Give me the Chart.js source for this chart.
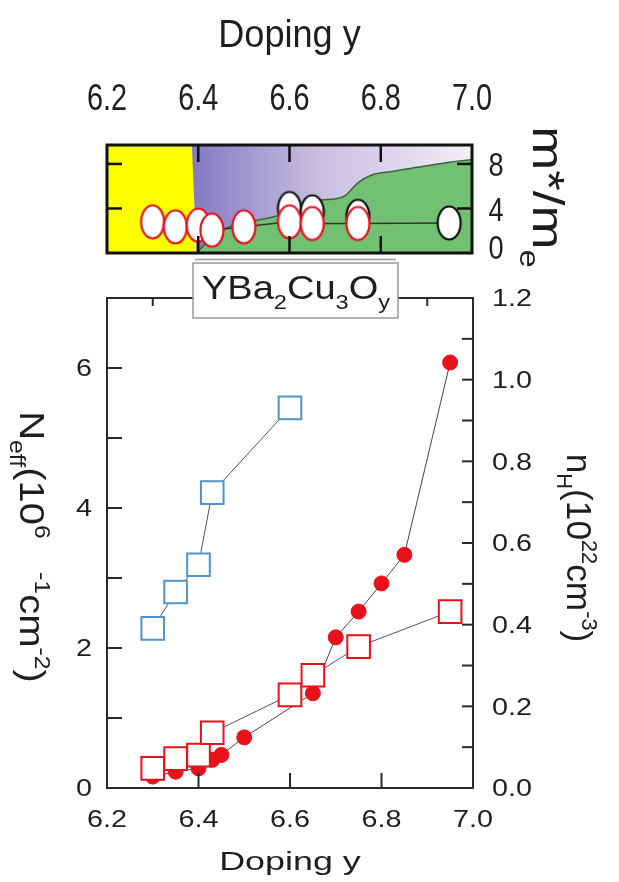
<!DOCTYPE html>
<html lang="en">
<head>
<meta charset="UTF-8" />
<title>YBa2Cu3Oy vs doping</title>
<script src="https://cdn.jsdelivr.net/npm/chart.js@4.4.1/dist/chart.umd.min.js"></script>
<style>
  body { margin: 0; background: #fff; }
  #wrap { position: relative; width: 619px; height: 882px; }
  canvas { position: absolute; left: 0; top: 0; }
</style>
</head>
<body>
<div id="wrap">
  <canvas id="massChart" width="619" height="882"></canvas>
  <canvas id="densityChart" width="619" height="882"></canvas>
</div>
<script>
// ---- data ----
const dopingTicks = [6.2, 6.4, 6.6, 6.8, 7.0];

// top panel: effective mass m*/me
const massDoping = [6.30, 6.35, 6.40, 6.43, 6.50, 6.60, 6.65, 6.75, 6.95];
const massRatio  = [2.8, 2.35, 2.5, 2.05, 2.35, 2.8, 2.65, 2.65, 2.7];
const massDopingHi = [6.60, 6.65, 6.75];
const massRatioHi  = [4.0, 3.7, 3.3];
const massTicks = [0, 4, 8];
const massMax = 9.7;

// shaded regions of the top panel
const yellowX = [6.2, 6.386, 6.396];
const yellowY = [9.7, 9.7, 0];
const purpleX = [6.386, 7.0];
const purpleY = [9.7, 9.7];
const greenX = [6.396, 6.42, 6.46, 6.53, 6.57, 6.62, 6.67, 6.70, 6.72, 6.75, 6.78, 6.82, 6.88, 6.95, 7.0];
const greenY = [0, 1.0, 2.2, 2.95, 3.3, 4.1, 4.75, 4.85, 5.1, 6.3, 7.0, 7.3, 7.7, 8.15, 8.4];

// bottom panel
const circleDoping = [6.30, 6.35, 6.40, 6.43, 6.45, 6.50, 6.65, 6.70, 6.75, 6.80, 6.85, 6.95];
const circleNH     = [0.028, 0.04, 0.048, 0.069, 0.081, 0.124, 0.232, 0.369, 0.432, 0.501, 0.571, 1.042];
const redSqDoping = [6.30, 6.35, 6.40, 6.43, 6.60, 6.65, 6.75, 6.95];
const redSqNeff   = [0.28, 0.42, 0.47, 0.79, 1.33, 1.61, 2.02, 2.52];
const blueSqDoping = [6.30, 6.35, 6.40, 6.43, 6.60];
const blueSqNeff   = [2.28, 2.80, 3.19, 4.22, 5.43];
const neffTicks = [0, 2, 4, 6];
const nhTicks = [0.0, 0.2, 0.4, 0.6, 0.8, 1.0, 1.2];

const RED = '#e8101a';
const BLUE = '#4f93c9';
const INK = '#1e1e1e';
const FONT = '"Liberation Sans", Arial, sans-serif';

const zip = (xs, ys) => xs.map((x, i) => ({ x: x, y: ys[i] }));

// ---- text helpers ----
function label(ctx, str, x, y, size, sx, sy, align) {
    ctx.save();
    ctx.translate(x, y);
    ctx.scale(sx, sy);
    ctx.font = size + 'px ' + FONT;
    ctx.fillStyle = INK;
    ctx.textAlign = align || 'center';
    ctx.textBaseline = 'alphabetic';
    ctx.fillText(str, 0, size * 0.358);
    ctx.restore();
}

// parts: [text, '' | 'sub' | 'sup']
function richLabel(ctx, parts, x, y, size, sx, sy, rot) {
    const small = size * 0.62;
    ctx.save();
    const widths = parts.map(([t, k]) => {
        ctx.font = (k ? small : size) + 'px ' + FONT;
        return ctx.measureText(t).width;
    });
    const total = widths.reduce((a, b) => a + b, 0);
    ctx.translate(x, y);
    if (rot) ctx.rotate(rot);
    ctx.scale(sx, sy);
    ctx.fillStyle = INK;
    ctx.textAlign = 'left';
    ctx.textBaseline = 'alphabetic';
    let cx = -total / 2;
    parts.forEach(([t, k], i) => {
        ctx.font = (k ? small : size) + 'px ' + FONT;
        const dy = k === 'sub' ? size * 0.3 : (k === 'sup' ? -size * 0.42 : 0);
        ctx.fillText(t, cx, size * 0.358 + dy);
        cx += widths[i];
    });
    ctx.restore();
}

function tick(ctx, x1, y1, x2, y2) {
    ctx.beginPath();
    ctx.moveTo(x1, y1);
    ctx.lineTo(x2, y2);
    ctx.stroke();
}

// ellipse marker used in the effective-mass panel
function ellipseMarker(stroke) {
    const c = document.createElement('canvas');
    c.width = 28;
    c.height = 38;
    const g = c.getContext('2d');
    g.beginPath();
    g.ellipse(14, 19, 11.5, 16.5, 0, 0, Math.PI * 2);
    g.fillStyle = '#fff';
    g.fill();
    g.lineWidth = 2.2;
    g.strokeStyle = stroke;
    g.stroke();
    return c;
}
const redEllipse = ellipseMarker(RED);
const blackEllipse = ellipseMarker('#111');

// ---- top panel ----
const massFrame = {
    id: 'massFrame',
    afterDatasetsDraw(chart) {
        const ctx = chart.ctx;
        const a = chart.chartArea;
        const xs = chart.scales.x;
        const ys = chart.scales.y;
        ctx.save();
        ctx.strokeStyle = '#111';
        ctx.lineWidth = 2.5;
        dopingTicks.slice(1, -1).forEach(v => {
            const px = xs.getPixelForValue(v);
            tick(ctx, px, a.top, px, a.top + 17);
            tick(ctx, px, a.bottom, px, a.bottom - 17);
        });
        massTicks.slice(1).forEach(v => {
            const py = ys.getPixelForValue(v);
            tick(ctx, a.left, py, a.left + 15, py);
            tick(ctx, a.right, py, a.right - 15, py);
        });
        ctx.lineWidth = 3;
        ctx.strokeRect(a.left, a.top, a.right - a.left, a.bottom - a.top);

        dopingTicks.forEach(v => {
            label(ctx, v.toFixed(1), xs.getPixelForValue(v), 97, 37, 0.78, 1);
        });
        label(ctx, 'Doping y', (a.left + a.right) / 2, 33, 38, 0.95, 1);
        massTicks.forEach(v => {
            const py = Math.min(ys.getPixelForValue(v), a.bottom - 6);
            label(ctx, String(v), 496, py, 34, 0.8, 1);
        });
        richLabel(ctx, [['m', ''], ['*', ''], ['/', ''], ['m', ''], ['e', 'sub']],
            549, 197, 44, 1.2, 1, Math.PI / 2);
        ctx.restore();
    }
};

new Chart(document.getElementById('massChart'), {
    type: 'scatter',
    data: {
        datasets: [
            {
                data: zip(massDoping, massRatio),
                showLine: true,
                borderColor: '#333',
                borderWidth: 1.5,
                pointStyle: massDoping.map(d => d > 6.9 ? blackEllipse : redEllipse),
                pointRadius: 12,
                clip: false,
                order: 0
            },
            {
                data: zip(massDopingHi, massRatioHi),
                pointStyle: blackEllipse,
                pointRadius: 12,
                clip: false,
                order: 1
            },
            {
                data: zip(greenX, greenY),
                showLine: true,
                fill: 'origin',
                backgroundColor: '#72c072',
                borderColor: '#3f603f',
                borderWidth: 1.5,
                cubicInterpolationMode: 'monotone',
                pointRadius: 0,
                order: 3
            },
            {
                data: zip(yellowX, yellowY),
                showLine: true,
                fill: 'origin',
                backgroundColor: '#ffff00',
                borderWidth: 0,
                pointRadius: 0,
                order: 4
            },
            {
                data: zip(purpleX, purpleY),
                showLine: true,
                fill: 'origin',
                backgroundColor: (c) => {
                    const ch = c.chart;
                    if (!ch.chartArea) return 'rgb(190,180,220)';
                    const xs = ch.scales.x;
                    const g = ch.ctx.createLinearGradient(xs.getPixelForValue(6.39), 0, xs.getPixelForValue(7.0), 0);
                    g.addColorStop(0, 'rgb(132,122,194)');
                    g.addColorStop(0.45, 'rgb(200,190,225)');
                    g.addColorStop(1, 'rgb(243,239,247)');
                    return g;
                },
                borderWidth: 0,
                pointRadius: 0,
                order: 5
            }
        ]
    },
    options: {
        responsive: false,
        animation: false,
        devicePixelRatio: 1,
        layout: { padding: { left: 107, right: 147, top: 145, bottom: 629 } },
        plugins: { legend: { display: false }, tooltip: { enabled: false } },
        scales: {
            x: { type: 'linear', min: 6.2, max: 7.0, display: false },
            y: { min: 0, max: massMax, display: false }
        }
    },
    plugins: [massFrame]
});

// ---- bottom panel ----
const densityFrame = {
    id: 'densityFrame',
    afterDatasetsDraw(chart) {
        const ctx = chart.ctx;
        const a = chart.chartArea;
        const xs = chart.scales.x;
        const yl = chart.scales.y;
        const yr = chart.scales.y2;
        ctx.save();
        ctx.strokeStyle = '#2a2a2a';
        ctx.lineWidth = 2;
        dopingTicks.slice(1, -1).forEach(v => {
            const px = xs.getPixelForValue(v);
            tick(ctx, px, a.bottom, px, a.bottom - 15);
        });
        for (let v = 6.3; v < 6.95; v += 0.1) {
            const px = xs.getPixelForValue(v);
            tick(ctx, px, a.top, px, a.top + 8);
        }
        for (let v = 1; v < 7; v++) {
            const py = yl.getPixelForValue(v);
            tick(ctx, a.left, py, a.left + 15, py);
        }
        for (let v = 1; v < 12; v++) {
            const py = yr.getPixelForValue(v / 10);
            tick(ctx, a.right, py, a.right - 11, py);
        }
        ctx.strokeRect(a.left, a.top, a.right - a.left, a.bottom - a.top);

        dopingTicks.forEach(v => {
            label(ctx, v.toFixed(1), xs.getPixelForValue(v), 819, 23, 1.25, 1);
        });
        label(ctx, 'Doping y', (a.left + a.right) / 2, 861, 26, 1.38, 1);
        neffTicks.forEach(v => {
            label(ctx, String(v), 92, yl.getPixelForValue(v), 23, 1.25, 1, 'right');
        });
        nhTicks.forEach(v => {
            label(ctx, v.toFixed(1), 492, yr.getPixelForValue(v), 23, 1.25, 1, 'left');
        });
        richLabel(ctx, [['N', ''], ['eff', 'sub'], ['(10', ''], ['6', 'sup'], ['   ', ''],
            ['-1', 'sup'], ['cm', ''], ['-2', 'sup'], [')', '']],
            33, 547, 32, 1.25, 1.1, Math.PI / 2);
        richLabel(ctx, [['n', ''], ['H', 'sub'], ['(10', ''], ['22', 'sup'], ['cm', ''],
            ['-3', 'sup'], [')', '']],
            580, 548, 32, 1.1, 1.1, Math.PI / 2);
        ctx.restore();
    },
    afterDraw(chart) {
        const ctx = chart.ctx;
        ctx.save();
        ctx.fillStyle = '#fff';
        ctx.fillRect(193, 263, 205, 55);
        ctx.strokeStyle = '#9a9a9a';
        ctx.lineWidth = 1.5;
        ctx.strokeRect(193, 263, 205, 55);
        tick(ctx, 195, 259.5, 396, 259.5);
        richLabel(ctx, [['YBa', ''], ['2', 'sub'], ['Cu', ''], ['3', 'sub'], ['O', ''], ['y', 'sub']],
            296, 287, 34, 1.12, 1, 0);
        ctx.restore();
    }
};

new Chart(document.getElementById('densityChart'), {
    type: 'scatter',
    data: {
        datasets: [
            {
                data: zip(redSqDoping, redSqNeff),
                yAxisID: 'y',
                showLine: true,
                borderColor: '#555',
                borderWidth: 1,
                pointStyle: 'rect',
                pointRadius: 16,
                pointBorderWidth: 2,
                pointBorderColor: RED,
                pointBackgroundColor: '#fff',
                clip: false,
                order: 0
            },
            {
                data: zip(blueSqDoping, blueSqNeff),
                yAxisID: 'y',
                showLine: true,
                borderColor: '#555',
                borderWidth: 1,
                pointStyle: 'rect',
                pointRadius: 16,
                pointBorderWidth: 2,
                pointBorderColor: BLUE,
                pointBackgroundColor: '#fff',
                clip: false,
                order: 1
            },
            {
                data: zip(circleDoping, circleNH),
                yAxisID: 'y2',
                showLine: true,
                borderColor: '#444',
                borderWidth: 1,
                pointStyle: 'circle',
                pointRadius: 7.5,
                pointBorderWidth: 1,
                pointBorderColor: RED,
                pointBackgroundColor: RED,
                clip: false,
                order: 2
            }
        ]
    },
    options: {
        responsive: false,
        animation: false,
        devicePixelRatio: 1,
        layout: { padding: { left: 107, right: 146, top: 298, bottom: 94 } },
        plugins: { legend: { display: false }, tooltip: { enabled: false } },
        scales: {
            x: { type: 'linear', min: 6.2, max: 7.0, display: false },
            y: { min: 0, max: 7, display: false },
            y2: { min: 0, max: 1.2, display: false, position: 'right' }
        }
    },
    plugins: [densityFrame]
});
</script>
</body>
</html>
